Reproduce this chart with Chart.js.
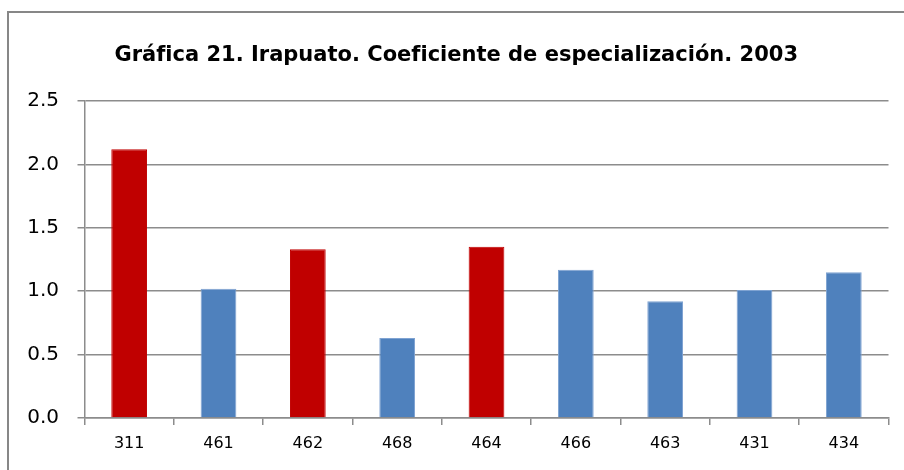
<!DOCTYPE html>
<html lang="es">
<head>
<meta charset="utf-8">
<title>Gráfica 21. Irapuato. Coeficiente de especialización. 2003</title>
<script src="https://cdn.jsdelivr.net/npm/chart.js@4/dist/chart.umd.min.js"></script>
<style>
  html, body { margin: 0; padding: 0; background: #ffffff; }
  #wrap { position: relative; width: 904px; height: 470px; overflow: hidden; }
</style>
</head>
<body>
<div id="wrap"><canvas id="chart" width="904" height="470"></canvas></div>
<script>
// Sector codes (SCIAN) and their specialization coefficient, Irapuato 2003
const categories = ['311', '461', '462', '468', '464', '466', '463', '431', '434'];
const coefficients = [2.12, 1.02, 1.33, 0.63, 1.35, 1.17, 0.92, 1.01, 1.15];
const yTicks = [0.0, 0.5, 1.0, 1.5, 2.0, 2.5];
const chartTitle = 'Gráfica 21. Irapuato. Coeficiente de especialización. 2003';

// Styling
const RED = '#C00000';
const BLUE = '#4F81BD';
const BLUE_EDGE = '#7FA3D2';
const GRID = '#8C8C8C';
const barFill = ['red', 'blue', 'red', 'blue', 'red', 'blue', 'blue', 'blue', 'blue']
  .map(c => c === 'red' ? RED : BLUE);
const barEdge = barFill.map(c => c === RED ? RED : BLUE_EDGE);

// Thin grey frame around the chart
const framePlugin = {
  id: 'frame',
  beforeDraw(chart) {
    const ctx = chart.ctx;
    ctx.save();
    ctx.fillStyle = '#ffffff';
    ctx.fillRect(0, 0, chart.width, chart.height);
    ctx.strokeStyle = '#878787';
    ctx.lineWidth = 2;
    ctx.strokeRect(8, 12, chart.width + 10, chart.height + 10);
    ctx.restore();
  }
};

new Chart(document.getElementById('chart'), {
  type: 'bar',
  data: {
    labels: categories,
    datasets: [{
      data: coefficients,
      backgroundColor: barFill,
      borderColor: barEdge,
      borderWidth: 1,
      barPercentage: 0.4,
      categoryPercentage: 1.0
    }]
  },
  options: {
    responsive: false,
    devicePixelRatio: 1,
    animation: false,
    layout: { padding: { left: 24, right: 15.5, top: 0, bottom: 0 } },
    plugins: {
      legend: { display: false },
      tooltip: { enabled: false },
      title: {
        display: true,
        text: chartTitle,
        color: '#000000',
        font: { family: 'DejaVu Sans', size: 21, weight: 'bold', lineHeight: 1.2 },
        padding: { top: 43, bottom: 32.8 }
      }
    },
    scales: {
      x: {
        afterFit(scale) { scale.height = 52; },
        grid: {
          offset: true,
          drawOnChartArea: false,
          drawTicks: true,
          tickLength: 7,
          color: GRID,
          lineWidth: 1.5
        },
        border: { display: true, color: GRID, width: 1.5 },
        ticks: {
          color: '#000000',
          padding: 9,
          font: { family: 'DejaVu Sans', size: 16 }
        }
      },
      y: {
        min: 0,
        max: 2.5,
        afterFit(scale) { scale.width = 60.5; },
        afterBuildTicks(scale) { scale.ticks = yTicks.map(v => ({ value: v })); },
        grid: {
          drawTicks: true,
          tickLength: 7,
          color: GRID,
          lineWidth: 1.5
        },
        border: { display: true, color: GRID, width: 1.5 },
        ticks: {
          color: '#000000',
          padding: 18.5,
          font: { family: 'DejaVu Sans', size: 20 },
          callback: v => Number(v).toFixed(1)
        }
      }
    }
  },
  plugins: [framePlugin]
});
</script>
</body>
</html>
